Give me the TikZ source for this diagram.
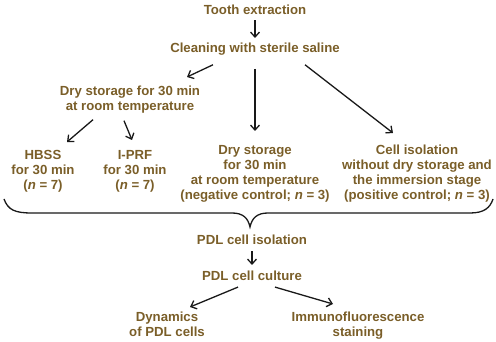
\documentclass[tikz,border=0pt]{standalone}
\usepackage{fontspec}
\setmainfont{Liberation Sans}
\usetikzlibrary{arrows.meta}
\definecolor{txtbrown}{RGB}{122,94,40}
\definecolor{arrowgray}{RGB}{25,25,25}
\tikzset{
  lbl/.style={anchor=north, inner sep=0pt, align=center, text=txtbrown,
    font=\fontsize{13.2}{15}\selectfont\bfseries},
  arr/.style={draw=arrowgray, line width=1.3pt, -{Straight Barb[length=5pt,width=9pt]}},
  bracepath/.style={draw=arrowgray, line width=1.3pt}
}
\begin{document}
\begin{tikzpicture}[x=1pt,y=-1pt]
\useasboundingbox (0,0) rectangle (496,342);
\node[lbl] (tooth) at (255,5) {Tooth extraction};
\node[lbl] (clean) at (255,43) {Cleaning with sterile saline};
\node[lbl] (dry) at (130,86) {Dry storage for 30 min\\at room temperature};
\node[lbl] (hbss) at (43,150) {HBSS\\for 30 min\\(\textit{n} = 7)};
\node[lbl] (iprf) at (135,150) {I-PRF\\for 30 min\\(\textit{n} = 7)};
\node[lbl] (drymid) at (255,145) {Dry storage\\for 30 min\\at room temperature\\(negative control; \textit{n} = 3)};
\node[lbl] (cell) at (417,145) {Cell isolation\\without dry storage and\\the immersion stage\\(positive control; \textit{n} = 3)};
\node[lbl] (pdliso) at (252,235) {PDL cell isolation};
\node[lbl] (culture) at (252,271) {PDL cell culture};
\node[lbl] (dyn) at (167,312) {Dynamics\\of PDL cells};
\node[lbl] (immuno) at (358,312) {Immunofluorescence\\staining};

\draw[arr] ([yshift=-5pt]tooth.south) -- ([yshift=5pt]clean.north);
\draw[arr] ([xshift=-42pt,yshift=-9pt]clean.south) -- ([xshift=57pt,yshift=9pt]dry.north);
\draw[arr] ([yshift=-13pt]clean.south) -- ([yshift=14pt]drymid.north);
\draw[arr] ([xshift=50pt,yshift=-9pt]clean.south) -- ([xshift=-24pt,yshift=12pt]cell.north);
\draw[arr] ([xshift=-37pt,yshift=-6pt]dry.south) -- ([xshift=24pt,yshift=8pt]hbss.north);
\draw[arr] ([xshift=-6pt,yshift=-7pt]dry.south) -- ([xshift=-3pt,yshift=10pt]iprf.north);

\coordinate (bl) at (4,199);
\coordinate (bt) at (250,227);
\coordinate (br) at (493,199);
\draw[bracepath] (bl) .. controls (8,210) and (15,213) .. (32,213) -- (232,213)
  .. controls (243,213) and (248,218) .. (bt)
  .. controls (252,218) and (257,213) .. (268,213) -- (470,213)
  .. controls (484,213) and (490,208) .. (br);

\draw[arr] ([yshift=-6pt]pdliso.south) -- ([yshift=6pt]culture.north);
\draw[arr] ([xshift=-14pt,yshift=-6pt]culture.south) -- ([xshift=23pt,yshift=5pt]dyn.north);
\draw[arr] ([xshift=23pt,yshift=-6pt]culture.south) -- ([xshift=-25pt,yshift=8pt]immuno.north);
\end{tikzpicture}
\end{document}
